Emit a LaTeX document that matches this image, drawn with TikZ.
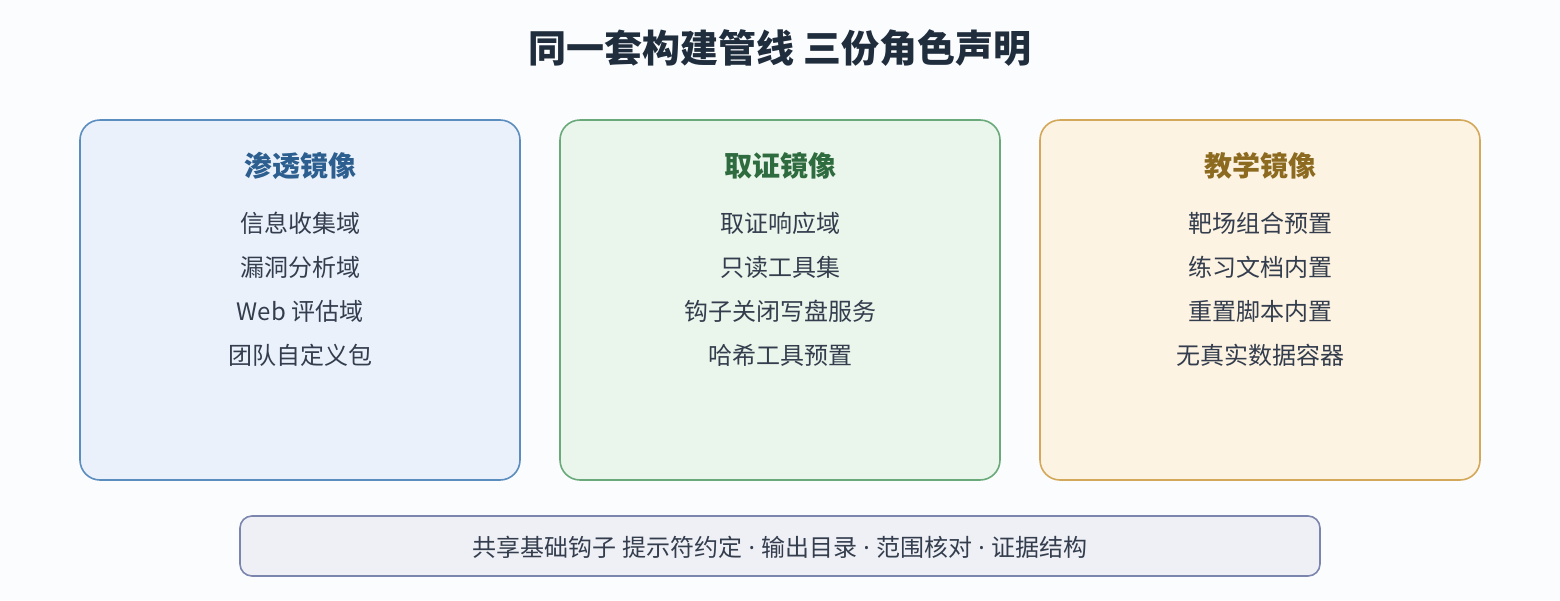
\documentclass[tikz,border=0pt]{standalone}
\usepackage{fontspec}
\setmainfont{Noto Sans CJK SC}
\newfontfamily\latinfont{Noto Sans}
\newcommand{\mdot}{{\latinfont\ ·\ }}
\definecolor{bg}{HTML}{FBFCFE}
\definecolor{titlec}{HTML}{1F2D3D}
\definecolor{txt}{HTML}{333D4D}
\definecolor{fillA}{HTML}{EAF1FB}
\definecolor{drawA}{HTML}{5B8DBE}
\definecolor{headA}{HTML}{2C5F8F}
\definecolor{fillB}{HTML}{EAF5EB}
\definecolor{drawB}{HTML}{6AAA7A}
\definecolor{headB}{HTML}{2E6B3E}
\definecolor{fillC}{HTML}{FDF3E2}
\definecolor{drawC}{HTML}{D4A85A}
\definecolor{headC}{HTML}{8C6A1F}
\definecolor{fillD}{HTML}{EFF0F5}
\definecolor{drawD}{HTML}{7C85AE}
\begin{document}
\begin{tikzpicture}[x=1pt,y=-1pt,
  panel/.style={rounded corners=20pt,line width=1.6pt},
  headtxt/.style={font=\fontsize{28}{32}\selectfont\bfseries,anchor=center},
  itemtxt/.style={font=\fontsize{24}{28}\selectfont,text=txt,anchor=center},
]
\useasboundingbox (0,0) rectangle (1560,600);
\fill[bg] (0,0) rectangle (1560,600);
\node[font=\fontsize{38}{44}\selectfont\bfseries,text=titlec] (title) at (780,48) {同一套构建管线 三份角色声明};

% panel A
\draw[panel,fill=fillA,draw=drawA] (80,120) rectangle (520,480);
\node[headtxt,text=headA] (hA) at (300,166) {渗透镜像};
\node[itemtxt] (a1) at (300,223) {信息收集域};
\node[itemtxt] (a2) at (300,267) {漏洞分析域};
\node[itemtxt] (a3) at (300,311) {Web 评估域};
\node[itemtxt] (a4) at (300,355) {团队自定义包};

% panel B
\draw[panel,fill=fillB,draw=drawB] (560,120) rectangle (1000,480);
\node[headtxt,text=headB] (hB) at (780,166) {取证镜像};
\node[itemtxt] (b1) at (780,223) {取证响应域};
\node[itemtxt] (b2) at (780,267) {只读工具集};
\node[itemtxt] (b3) at (780,311) {钩子关闭写盘服务};
\node[itemtxt] (b4) at (780,355) {哈希工具预置};

% panel C
\draw[panel,fill=fillC,draw=drawC] (1040,120) rectangle (1480,480);
\node[headtxt,text=headC] (hC) at (1260,166) {教学镜像};
\node[itemtxt] (c1) at (1260,223) {靶场组合预置};
\node[itemtxt] (c2) at (1260,267) {练习文档内置};
\node[itemtxt] (c3) at (1260,311) {重置脚本内置};
\node[itemtxt] (c4) at (1260,355) {无真实数据容器};

% bottom bar
\draw[rounded corners=12pt,line width=1.6pt,fill=fillD,draw=drawD] (240,516) rectangle (1320,576);
\node[itemtxt] (base) at (780,547) {共享基础钩子 提示符约定\mdot 输出目录\mdot 范围核对\mdot 证据结构};
\end{tikzpicture}
\end{document}
